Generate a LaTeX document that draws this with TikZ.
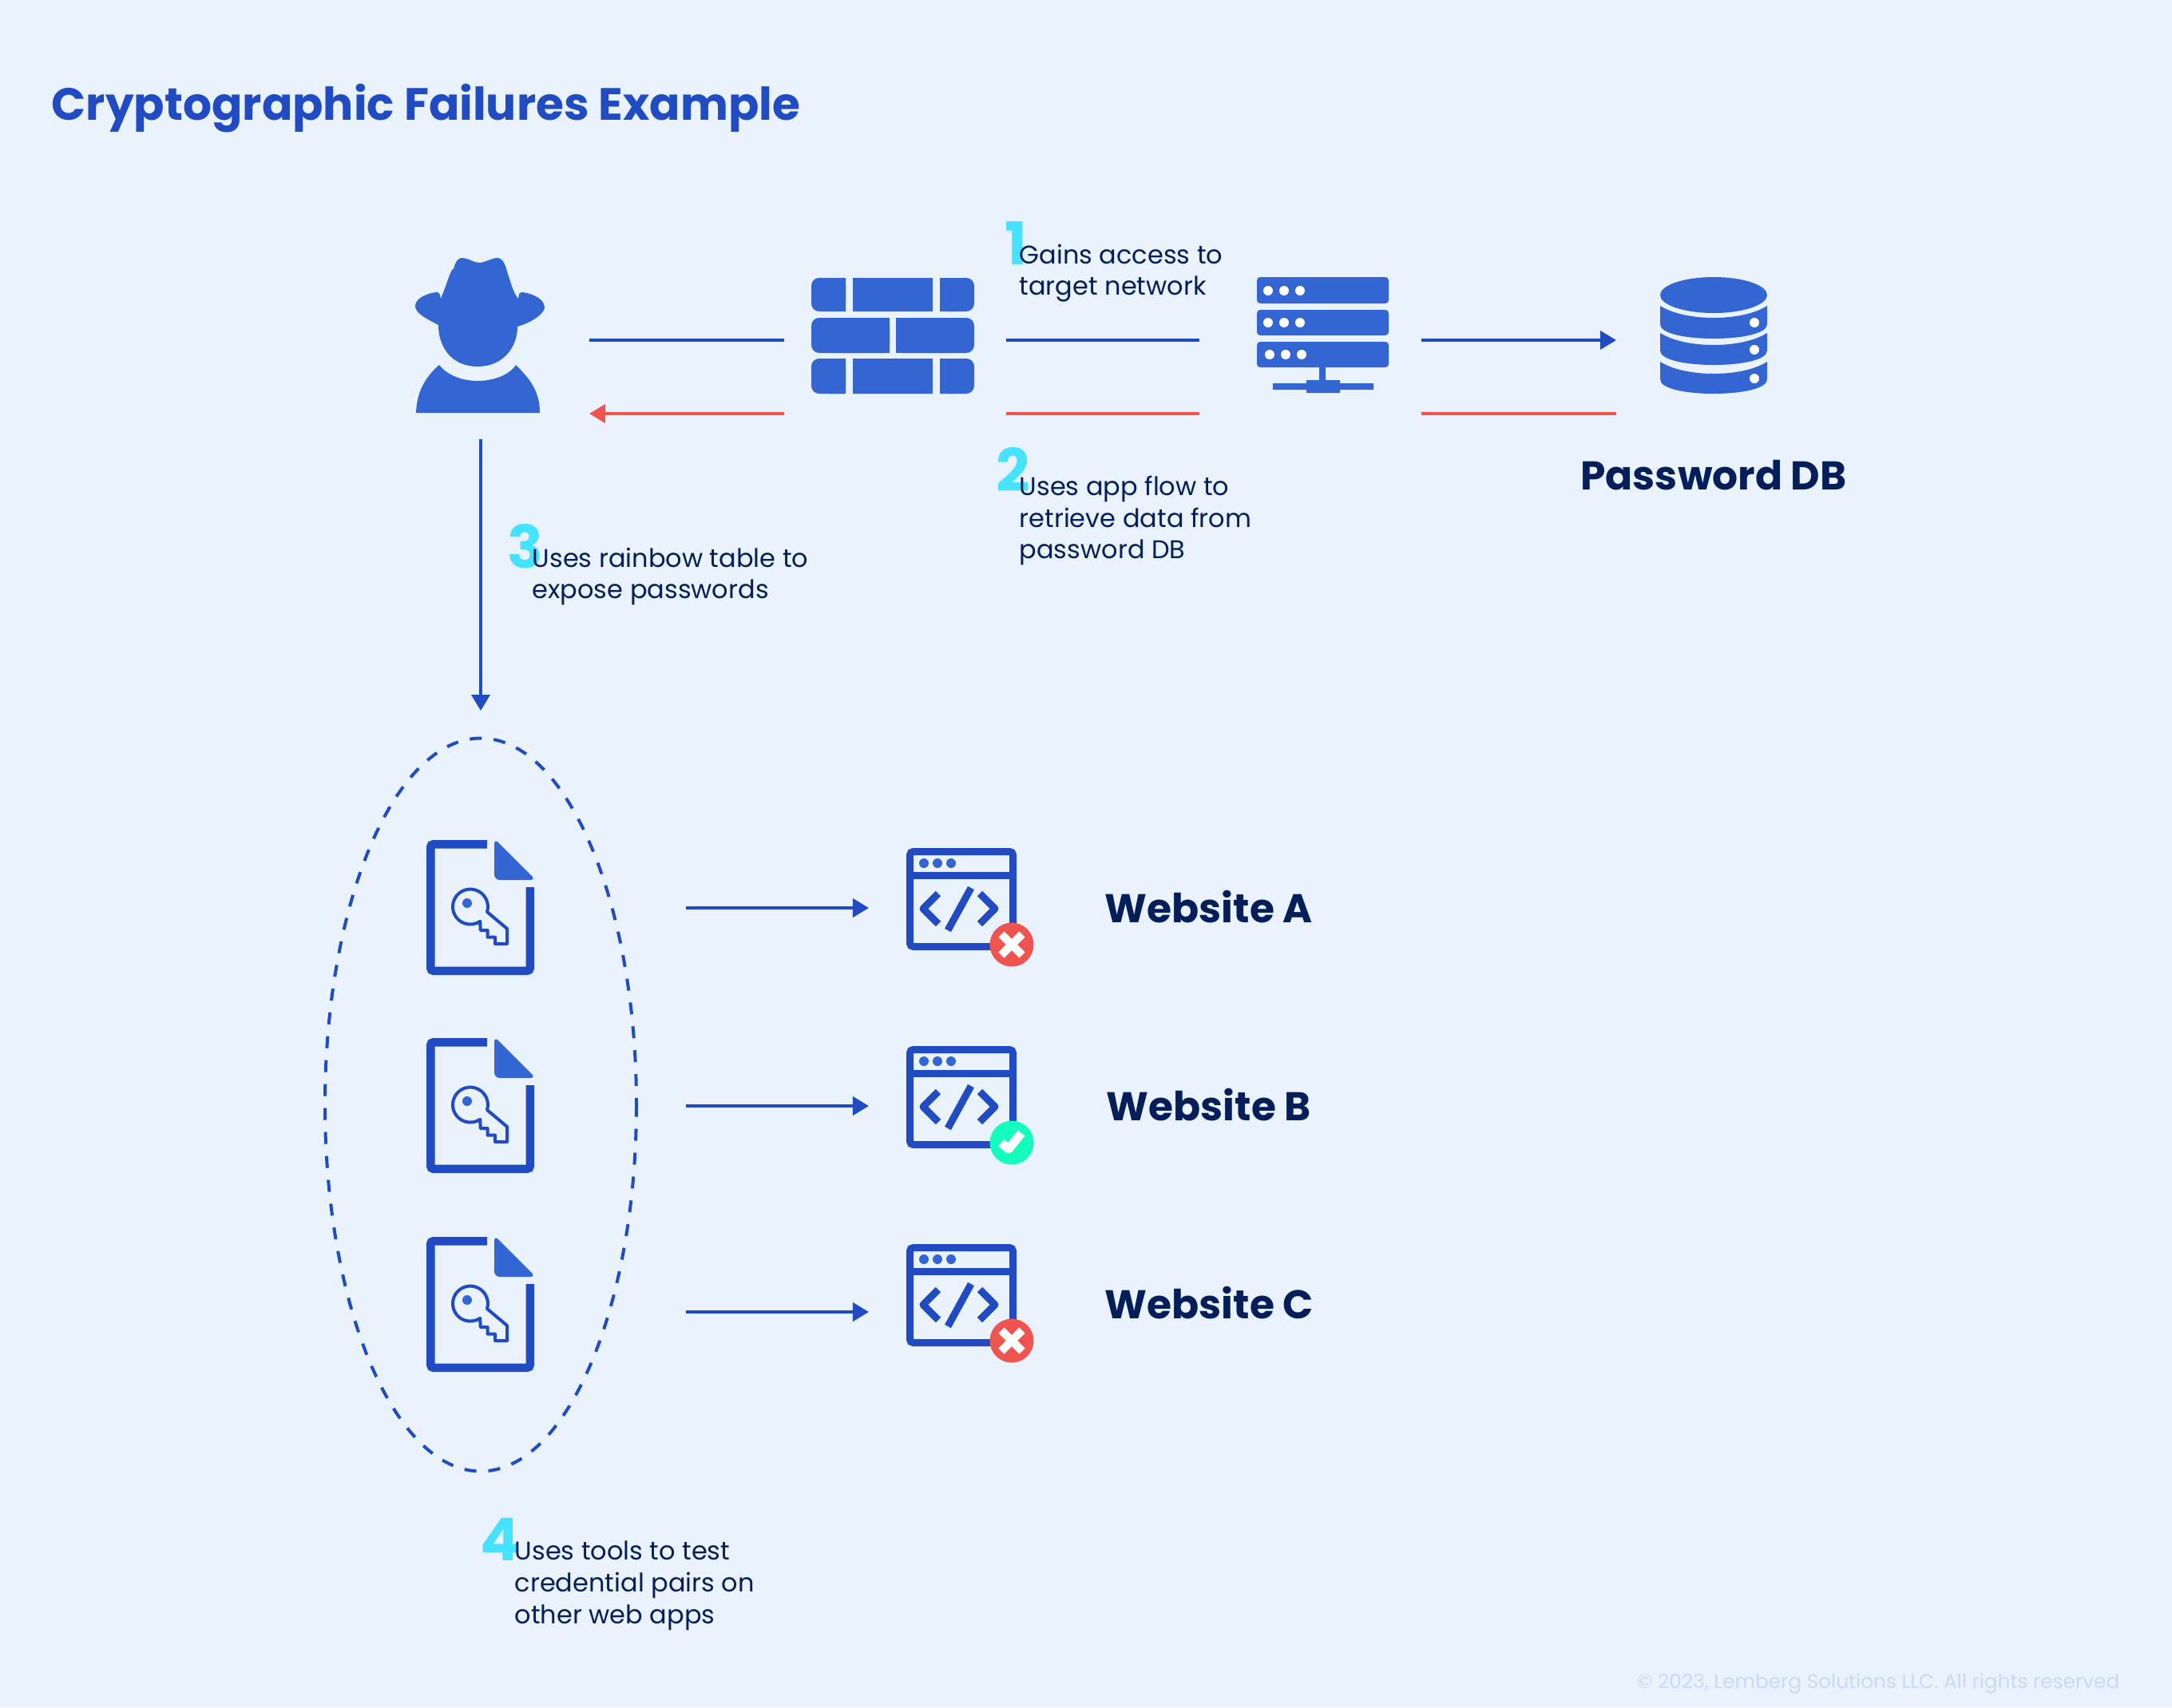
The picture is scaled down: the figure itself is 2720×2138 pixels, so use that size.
\documentclass[tikz,border=0pt]{standalone}
\usepackage{fontspec}
\setmainfont{Poppins}
\usepackage{xcolor}
\usetikzlibrary{arrows.meta,positioning}
\definecolor{bgblue}{HTML}{EAF3FD}
\definecolor{lineblue}{HTML}{204BC3}
\definecolor{iconblue}{HTML}{3366D3}
\definecolor{linered}{HTML}{F0544F}
\definecolor{numcyan}{HTML}{45E3FF}
\definecolor{navy}{HTML}{041E5A}
\definecolor{okgreen}{HTML}{12FDBE}
\definecolor{faintblue}{HTML}{C9DAF6}
\tikzset{
  pics/filekey/.style={code={
    \draw[lineblue, line width=10.5*0.01cm, rounded corners=1pt] (76,5.25) -- (5.25,5.25) -- (5.25,163.75) -- (129.75,163.75) -- (129.75,59);
    \fill[iconblue, rounded corners=2pt] (85,-2) -- (137,50) -- (85,50) -- cycle;
    \draw[lineblue, line width=4*0.01cm, line join=round] (76,90) arc[start angle=17, end angle=-304, radius=22] -- (67.7,113) -- (76.7,113) -- (76.7,121.7) -- (86,121.7) -- (86,130) -- (101,130) -- (101,111) -- cycle;
    \fill[iconblue] (51,79) circle (6);
  }},
  pics/webpage/.style={code={
    \draw[lineblue, line width=9*0.01cm, rounded corners=1.2pt] (4.5,4.5) rectangle (133.5,123.5);
    \draw[lineblue, line width=9*0.01cm] (4.5,34.5) -- (133.5,34.5);
    \foreach \dotx in {22,39,56} \fill[iconblue] (\dotx,19) circle (6);
    \draw[lineblue, line width=9*0.01cm, line join=round] (40,57) -- (21,76) -- (40,95);
    \draw[lineblue, line width=9*0.01cm, line join=round] (92,57) -- (111,76) -- (92,95);
    \draw[lineblue, line width=9*0.01cm] (81,50) -- (52,103);
  }},
  pics/crossbadge/.style={code={
    \fill[linered] (0,0) circle (27.5);
    \draw[white, line width=10*0.01cm] (-13,-13) -- (13,13) (-13,13) -- (13,-13);
  }},
  pics/checkbadge/.style={code={
    \fill[okgreen] (0,0) circle (27.5);
    \draw[white, line width=11*0.01cm, line join=round] (-13,0) -- (-4,8) -- (12,-12);
  }}
}
\begin{document}
\begin{tikzpicture}[
  x=0.01cm, y=-0.01cm,
  heading/.style={inner sep=0pt, anchor=west, text=lineblue, font=\fontsize{16.1}{20}\selectfont\bfseries},
  sitelab/.style={inner sep=0pt, anchor=west, text=navy, font=\fontsize{14.3}{18}\selectfont\bfseries},
  note/.style={inner sep=0pt, anchor=north west, align=left, text=navy, font=\fontsize{9.1}{11.34}\selectfont},
  numlab/.style={inner sep=0pt, anchor=north west, text=numcyan, font=\fontsize{21}{24}\selectfont\bfseries},
  conn/.style={line width=0.04cm, lineblue},
  arr/.style={conn, -{Triangle[length=0.2cm, width=0.23cm]}},
  connred/.style={line width=0.04cm, linered},
  arrred/.style={connred, -{Triangle[length=0.2cm, width=0.23cm]}}
]
\fill[bgblue] (0,0) rectangle (2720,2138);
\useasboundingbox (0,0) rectangle (2720,2138);
\node[heading] (title) at (64,136) {Cryptographic Failures Example};
% hacker
\fill[iconblue] (552,374) .. controls (560,355) and (565,335) .. (568,337) .. controls (571,325) and (575,323) .. (579,323) .. controls (586,323) and (593,329) .. (600,329) .. controls (607,329) and (616,323) .. (623,323) .. controls (628,323) and (632,328) .. (635,340) .. controls (640,355) and (643,367) .. (649,374) .. controls (650,368) and (650,366) .. (653,366) .. controls (660,366) and (682,372) .. (682,385) .. controls (682,392) and (668,403) .. (648,409) .. controls (648,435) and (630,459) .. (598,459) .. controls (566,459) and (549,435) .. (549,407) .. controls (532,398) and (520,392) .. (520,383) .. controls (520,372) and (540,366) .. (547,366) .. controls (551,366) and (551,370) .. (552,374) -- cycle;
\fill[iconblue] (521,517) .. controls (522,490) and (533,472) .. (550,457) .. controls (562,472) and (582,477) .. (598,477) .. controls (614,477) and (636,472) .. (646,457) .. controls (664,475) and (676,490) .. (676,517) -- cycle;
% firewall
\fill[iconblue, rounded corners=2.8pt] (1016,348) rectangle (1059,390) (1177,348) rectangle (1220,390) (1016,398) rectangle (1114,442) (1122,398) rectangle (1220,442) (1016,449) rectangle (1059,493) (1177,449) rectangle (1220,493);
\fill[iconblue] (1040,348) rectangle (1059,390) (1177,348) rectangle (1196,390) (1040,398) rectangle (1114,442) (1122,398) rectangle (1196,442) (1040,449) rectangle (1059,493) (1177,449) rectangle (1196,493);
\fill[iconblue] (1068,348) rectangle (1168,390) (1068,449) rectangle (1168,493);
% server
\fill[iconblue, rounded corners=1.2pt] (1574,347) rectangle (1739,380) (1574,388) rectangle (1739,420) (1574,428) rectangle (1739,460);
\fill[white] (1588,364) circle (6) (1608,364) circle (6) (1628,364) circle (6) (1588,404) circle (6) (1608,404) circle (6) (1628,404) circle (6) (1590,444) circle (6) (1610,444) circle (6) (1630,444) circle (6);
\fill[iconblue] (1652,460) rectangle (1660,476) (1594,480) rectangle (1720,488) (1636,476) rectangle (1678,492);
% password db
\fill[iconblue] (2146,369.5) ellipse [x radius=67, y radius=22.5];
\foreach \layertop/\layerbot/\dotrow in {383/424/404, 417/457/438, 453/493/474} {
  \fill[iconblue] (2079,\layertop) .. controls (2095,\layertop+10) and (2120,\layertop+15) .. (2146,\layertop+15) .. controls (2172,\layertop+15) and (2197,\layertop+10) .. (2213,\layertop) -- (2213,\layerbot-18) .. controls (2213,\layerbot-6) and (2180,\layerbot) .. (2146,\layerbot) .. controls (2112,\layerbot) and (2079,\layerbot-6) .. (2079,\layerbot-18) -- cycle;
  \fill[white] (2197,\dotrow) circle (6);
}
\node[inner sep=0pt, anchor=center, text=navy, font=\fontsize{14.3}{18}\selectfont\bfseries] (dblab) at (2146,595) {Password DB};
% connector ends
\coordinate (hackerE) at (738,426);
\coordinate (fwW) at (982,426);
\coordinate (fwE) at (1260,426);
\coordinate (srvW) at (1502,426);
\coordinate (srvE) at (1780,426);
\coordinate (dbW) at (2024,426);
\coordinate (dbWr) at (2024,518);
\coordinate (srvEr) at (1780,518);
\coordinate (srvWr) at (1502,518);
\coordinate (fwEr) at (1260,518);
\coordinate (fwWr) at (982,518);
\coordinate (hackerEr) at (738,518);
\coordinate (hackerS) at (602,550);
\coordinate (filesN) at (602,890);
\draw[conn] (hackerE) -- (fwW);
\draw[conn] (fwE) -- (srvW);
\draw[arr] (srvE) -- (dbW);
\draw[connred] (dbWr) -- (srvEr);
\draw[connred] (srvWr) -- (fwEr);
\draw[arrred] (fwWr) -- (hackerEr);
\draw[arr] (hackerS) -- (filesN);
% notes
\node[numlab] (num1) at (1258,277) {1};
\node[numlab] (num2) at (1247,560) {2};
\node[numlab] (num3) at (635,656) {3};
\node[numlab] (num4) at (601,1901) {4};
\node[note] (note1) at (1276,305) {Gains access to\\target network};
\node[note] (note2) at (1276,595) {Uses app flow to\\retrieve data from\\password DB};
\node[note] (note3) at (666,685) {Uses rainbow table to\\expose passwords};
\node[note] (note4) at (644,1929) {Uses tools to test\\credential pairs on\\other web apps};
% leaked credential files
\draw[lineblue, line width=0.04cm, dash pattern=on 0.15cm off 0.15cm] (602,1383.5) ellipse [x radius=195, y radius=459];
\foreach \fileY in {1052,1300,1549} \pic at (534,\fileY) {filekey};
% websites
\pic at (1135,1062) {webpage};
\pic at (1135,1310) {webpage};
\pic at (1135,1558) {webpage};
\pic at (1267,1183) {crossbadge};
\pic at (1267,1431) {checkbadge};
\pic at (1267,1679) {crossbadge};
\coordinate (fileA) at (859,1137);
\coordinate (siteA) at (1088,1137);
\coordinate (fileB) at (859,1385);
\coordinate (siteB) at (1088,1385);
\coordinate (fileC) at (859,1643);
\coordinate (siteC) at (1088,1643);
\draw[arr] (fileA) -- (siteA);
\draw[arr] (fileB) -- (siteB);
\draw[arr] (fileC) -- (siteC);
\node[sitelab] (labA) at (1383,1136) {Website A};
\node[sitelab] (labB) at (1385,1384) {Website B};
\node[sitelab] (labC) at (1383,1632) {Website C};
\node[inner sep=0pt, anchor=east, text=faintblue, font=\fontsize{7.05}{9}\selectfont] (copyr) at (2655,2108) {© 2023, Lemberg Solutions LLC. All rights reserved};
\end{tikzpicture}
\end{document}
